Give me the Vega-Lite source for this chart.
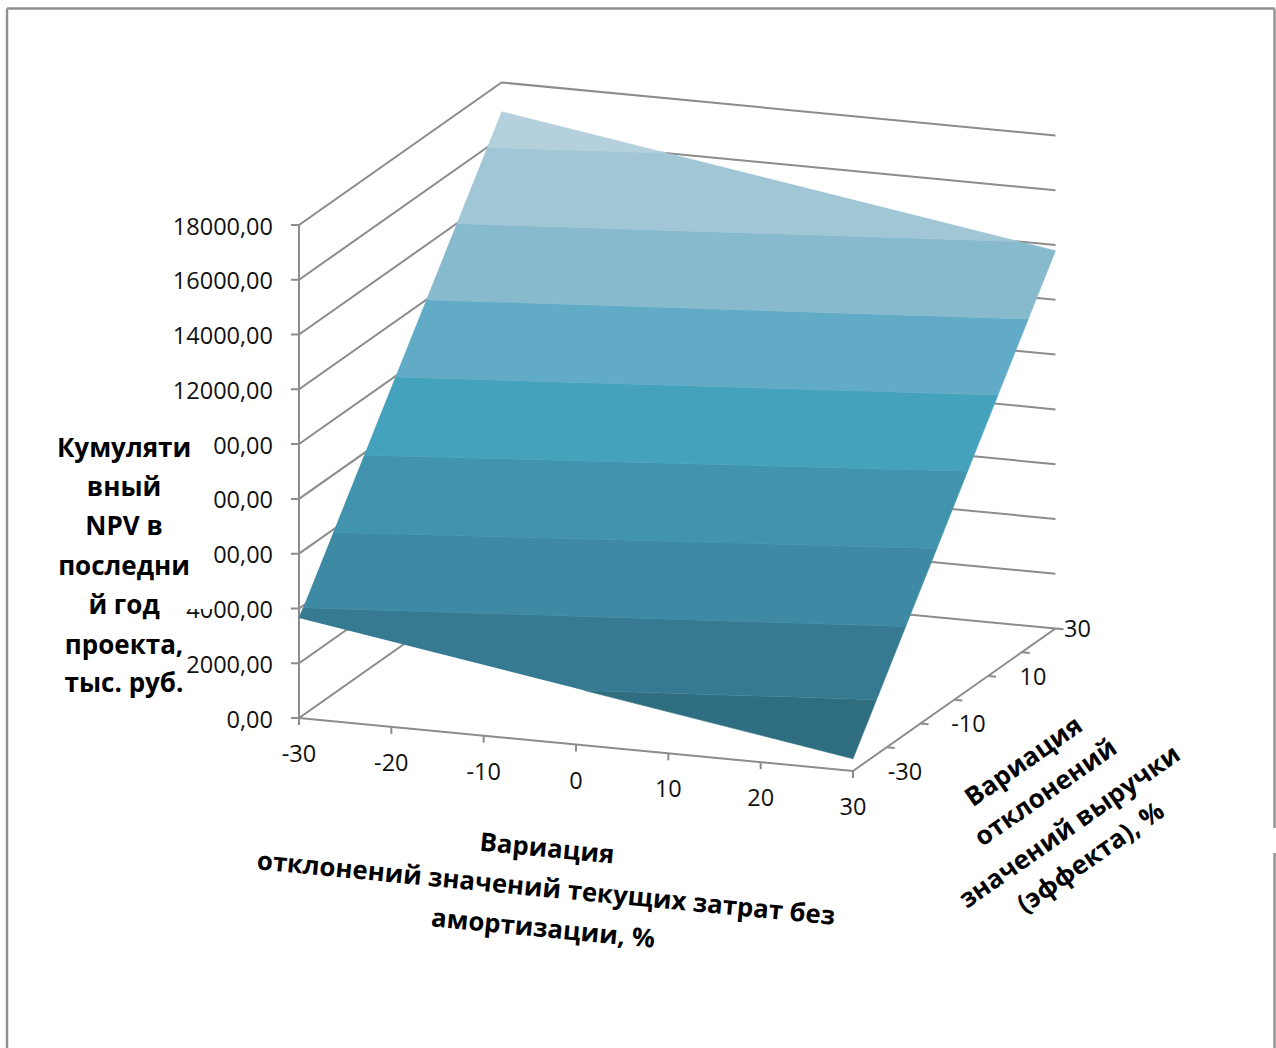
{
"$schema":"https://vega.github.io/schema/vega-lite/v6.json",
"width":1276,"height":1048,
"autosize":"none",
"padding":0,
"background":"#ffffff",
"config":{"view":{"stroke":null}},
"data":{"values":[
{"part":"frame","line":"top","i":0,"cost":-61.62,"revenue":-30,"npv":24884},
{"part":"frame","line":"top","i":1,"cost":75.65,"revenue":-30,"npv":29310},
{"part":"frame","line":"left","i":0,"cost":-61.62,"revenue":-30,"npv":24884},
{"part":"frame","line":"left","i":1,"cost":-61.62,"revenue":-30,"npv":-13068},
{"part":"frame","line":"right1","i":0,"cost":75.65,"revenue":-30,"npv":29310},
{"part":"frame","line":"right1","i":1,"cost":75.65,"revenue":-30,"npv":-610},
{"part":"frame","line":"right2","i":0,"cost":75.65,"revenue":-30,"npv":-1523},
{"part":"frame","line":"right2","i":1,"cost":75.65,"revenue":-30,"npv":-8642},

{"part":"grid","line":"g0","i":0,"cost":-30.87,"revenue":-30,"npv":-28},
{"part":"grid","line":"g0","i":1,"cost":-30,"revenue":-30,"npv":0},
{"part":"grid","line":"g0","i":2,"cost":-30,"revenue":30,"npv":0},
{"part":"grid","line":"g0","i":3,"cost":30,"revenue":30,"npv":0},
{"part":"grid","line":"g2","i":0,"cost":-30.87,"revenue":-30,"npv":1972},
{"part":"grid","line":"g2","i":1,"cost":-30,"revenue":-30,"npv":2000},
{"part":"grid","line":"g2","i":2,"cost":-30,"revenue":30,"npv":2000},
{"part":"grid","line":"g2","i":3,"cost":30,"revenue":30,"npv":2000},
{"part":"grid","line":"g4","i":0,"cost":-30.87,"revenue":-30,"npv":3972},
{"part":"grid","line":"g4","i":1,"cost":-30,"revenue":-30,"npv":4000},
{"part":"grid","line":"g4","i":2,"cost":-30,"revenue":30,"npv":4000},
{"part":"grid","line":"g4","i":3,"cost":30,"revenue":30,"npv":4000},
{"part":"grid","line":"g6","i":0,"cost":-30.87,"revenue":-30,"npv":5972},
{"part":"grid","line":"g6","i":1,"cost":-30,"revenue":-30,"npv":6000},
{"part":"grid","line":"g6","i":2,"cost":-30,"revenue":30,"npv":6000},
{"part":"grid","line":"g6","i":3,"cost":30,"revenue":30,"npv":6000},
{"part":"grid","line":"g8","i":0,"cost":-30.87,"revenue":-30,"npv":7972},
{"part":"grid","line":"g8","i":1,"cost":-30,"revenue":-30,"npv":8000},
{"part":"grid","line":"g8","i":2,"cost":-30,"revenue":30,"npv":8000},
{"part":"grid","line":"g8","i":3,"cost":30,"revenue":30,"npv":8000},
{"part":"grid","line":"g10","i":0,"cost":-30.87,"revenue":-30,"npv":9972},
{"part":"grid","line":"g10","i":1,"cost":-30,"revenue":-30,"npv":10000},
{"part":"grid","line":"g10","i":2,"cost":-30,"revenue":30,"npv":10000},
{"part":"grid","line":"g10","i":3,"cost":30,"revenue":30,"npv":10000},
{"part":"grid","line":"g12","i":0,"cost":-30.87,"revenue":-30,"npv":11972},
{"part":"grid","line":"g12","i":1,"cost":-30,"revenue":-30,"npv":12000},
{"part":"grid","line":"g12","i":2,"cost":-30,"revenue":30,"npv":12000},
{"part":"grid","line":"g12","i":3,"cost":30,"revenue":30,"npv":12000},
{"part":"grid","line":"g14","i":0,"cost":-30.87,"revenue":-30,"npv":13972},
{"part":"grid","line":"g14","i":1,"cost":-30,"revenue":-30,"npv":14000},
{"part":"grid","line":"g14","i":2,"cost":-30,"revenue":30,"npv":14000},
{"part":"grid","line":"g14","i":3,"cost":30,"revenue":30,"npv":14000},
{"part":"grid","line":"g16","i":0,"cost":-30.87,"revenue":-30,"npv":15972},
{"part":"grid","line":"g16","i":1,"cost":-30,"revenue":-30,"npv":16000},
{"part":"grid","line":"g16","i":2,"cost":-30,"revenue":30,"npv":16000},
{"part":"grid","line":"g16","i":3,"cost":30,"revenue":30,"npv":16000},
{"part":"grid","line":"g18","i":0,"cost":-30.87,"revenue":-30,"npv":17972},
{"part":"grid","line":"g18","i":1,"cost":-30,"revenue":-30,"npv":18000},
{"part":"grid","line":"g18","i":2,"cost":-30,"revenue":30,"npv":18000},
{"part":"grid","line":"g18","i":3,"cost":30,"revenue":30,"npv":18000},
{"part":"grid","line":"npvaxis","i":0,"cost":-30,"revenue":-30,"npv":0},
{"part":"grid","line":"npvaxis","i":1,"cost":-30,"revenue":-30,"npv":18000},
{"part":"grid","line":"floor","i":0,"cost":-30,"revenue":-30,"npv":0},
{"part":"grid","line":"floor","i":1,"cost":30,"revenue":-30,"npv":0},
{"part":"grid","line":"floor","i":2,"cost":30,"revenue":30,"npv":0},
{"part":"grid","line":"c-30","i":0,"cost":-30,"revenue":-30,"npv":0},
{"part":"grid","line":"c-30","i":1,"cost":-30,"revenue":-30,"npv":-256},
{"part":"grid","line":"c-20","i":0,"cost":-20,"revenue":-30,"npv":0},
{"part":"grid","line":"c-20","i":1,"cost":-20,"revenue":-30,"npv":-256},
{"part":"grid","line":"c-10","i":0,"cost":-10,"revenue":-30,"npv":0},
{"part":"grid","line":"c-10","i":1,"cost":-10,"revenue":-30,"npv":-256},
{"part":"grid","line":"c0","i":0,"cost":0,"revenue":-30,"npv":0},
{"part":"grid","line":"c0","i":1,"cost":0,"revenue":-30,"npv":-256},
{"part":"grid","line":"c10","i":0,"cost":10,"revenue":-30,"npv":0},
{"part":"grid","line":"c10","i":1,"cost":10,"revenue":-30,"npv":-256},
{"part":"grid","line":"c20","i":0,"cost":20,"revenue":-30,"npv":0},
{"part":"grid","line":"c20","i":1,"cost":20,"revenue":-30,"npv":-256},
{"part":"grid","line":"c30","i":0,"cost":30,"revenue":-30,"npv":0},
{"part":"grid","line":"c30","i":1,"cost":30,"revenue":-30,"npv":-256},
{"part":"grid","line":"r-20","i":0,"cost":30,"revenue":-20,"npv":0},
{"part":"grid","line":"r-20","i":1,"cost":30.87,"revenue":-20,"npv":0},
{"part":"grid","line":"r-10","i":0,"cost":30,"revenue":-10,"npv":0},
{"part":"grid","line":"r-10","i":1,"cost":30.87,"revenue":-10,"npv":0},
{"part":"grid","line":"r0","i":0,"cost":30,"revenue":0,"npv":0},
{"part":"grid","line":"r0","i":1,"cost":30.87,"revenue":0,"npv":0},
{"part":"grid","line":"r10","i":0,"cost":30,"revenue":10,"npv":0},
{"part":"grid","line":"r10","i":1,"cost":30.87,"revenue":10,"npv":0},
{"part":"grid","line":"r20","i":0,"cost":30,"revenue":20,"npv":0},
{"part":"grid","line":"r20","i":1,"cost":30.87,"revenue":20,"npv":0},
{"part":"grid","line":"r30","i":0,"cost":30,"revenue":30,"npv":0},
{"part":"grid","line":"r30","i":1,"cost":30.87,"revenue":30,"npv":0},

{"part":"surface","band":"0-2000","i":0,"cost":0.94,"revenue":-30,"npv":2000},
{"part":"surface","band":"0-2000","i":1,"cost":30,"revenue":-30,"npv":449},
{"part":"surface","band":"0-2000","i":2,"cost":30,"revenue":-23.03,"npv":2000},
{"part":"surface","band":"2000-4000","i":0,"cost":0.94,"revenue":-30,"npv":2000},
{"part":"surface","band":"2000-4000","i":1,"cost":30,"revenue":-23.03,"npv":2000},
{"part":"surface","band":"2000-4000","i":2,"cost":30,"revenue":-14.4,"npv":3921},
{"part":"surface","band":"2000-4000","i":3,"cost":-30,"revenue":-28.78,"npv":3921},
{"part":"surface","band":"2000-4000","i":4,"cost":-30,"revenue":-30,"npv":3651},
{"part":"surface","band":"4000-6000","i":0,"cost":-30,"revenue":-28.78,"npv":3921},
{"part":"surface","band":"4000-6000","i":1,"cost":30,"revenue":-14.4,"npv":3921},
{"part":"surface","band":"4000-6000","i":2,"cost":30,"revenue":-5.16,"npv":5973},
{"part":"surface","band":"4000-6000","i":3,"cost":-30,"revenue":-19.86,"npv":5896},
{"part":"surface","band":"6000-8000","i":0,"cost":-30,"revenue":-19.86,"npv":5896},
{"part":"surface","band":"6000-8000","i":1,"cost":30,"revenue":-5.16,"npv":5973},
{"part":"surface","band":"6000-8000","i":2,"cost":30,"revenue":3.95,"npv":8000},
{"part":"surface","band":"6000-8000","i":3,"cost":-30,"revenue":-10.71,"npv":7921},
{"part":"surface","band":"8000-10000","i":0,"cost":-30,"revenue":-10.71,"npv":7921},
{"part":"surface","band":"8000-10000","i":1,"cost":30,"revenue":3.95,"npv":8000},
{"part":"surface","band":"8000-10000","i":2,"cost":30,"revenue":12.95,"npv":10000},
{"part":"surface","band":"8000-10000","i":3,"cost":-30,"revenue":-1.44,"npv":9973},
{"part":"surface","band":"10000-12000","i":0,"cost":-30,"revenue":-1.44,"npv":9973},
{"part":"surface","band":"10000-12000","i":1,"cost":30,"revenue":12.95,"npv":10000},
{"part":"surface","band":"10000-12000","i":2,"cost":30,"revenue":21.94,"npv":12000},
{"part":"surface","band":"10000-12000","i":3,"cost":-30,"revenue":7.72,"npv":12000},
{"part":"surface","band":"12000-14000","i":0,"cost":-30,"revenue":7.72,"npv":12000},
{"part":"surface","band":"12000-14000","i":1,"cost":30,"revenue":21.94,"npv":12000},
{"part":"surface","band":"12000-14000","i":2,"cost":30,"revenue":30,"npv":13793},
{"part":"surface","band":"12000-14000","i":3,"cost":26.04,"revenue":30,"npv":14000},
{"part":"surface","band":"12000-14000","i":4,"cost":-30,"revenue":16.75,"npv":14000},
{"part":"surface","band":"14000-16000","i":0,"cost":-30,"revenue":16.75,"npv":14000},
{"part":"surface","band":"14000-16000","i":1,"cost":26.04,"revenue":30,"npv":14000},
{"part":"surface","band":"14000-16000","i":2,"cost":-12.17,"revenue":30,"npv":16000},
{"part":"surface","band":"14000-16000","i":3,"cost":-30,"revenue":25.79,"npv":16000},
{"part":"surface","band":"16000-18000","i":0,"cost":-30,"revenue":25.79,"npv":16000},
{"part":"surface","band":"16000-18000","i":1,"cost":-12.17,"revenue":30,"npv":16000},
{"part":"surface","band":"16000-18000","i":2,"cost":-30,"revenue":30,"npv":16933},

{"part":"npvlabel","cost":-30,"revenue":-30,"npv":18000,"label":"18000,00"},
{"part":"npvlabel","cost":-30,"revenue":-30,"npv":16000,"label":"16000,00"},
{"part":"npvlabel","cost":-30,"revenue":-30,"npv":14000,"label":"14000,00"},
{"part":"npvlabel","cost":-30,"revenue":-30,"npv":12000,"label":"12000,00"},
{"part":"npvlabel","cost":-30,"revenue":-30,"npv":10000,"label":"10000,00"},
{"part":"npvlabel","cost":-30,"revenue":-30,"npv":8000,"label":"8000,00"},
{"part":"npvlabel","cost":-30,"revenue":-30,"npv":6000,"label":"6000,00"},
{"part":"npvlabel","cost":-30,"revenue":-30,"npv":4000,"label":"4000,00"},
{"part":"npvlabel","cost":-30,"revenue":-30,"npv":2000,"label":"2000,00"},
{"part":"npvlabel","cost":-30,"revenue":-30,"npv":0,"label":"0,00"},

{"part":"costlabel","cost":-30,"revenue":-30,"npv":0,"label":"-30"},
{"part":"costlabel","cost":-20,"revenue":-30,"npv":0,"label":"-20"},
{"part":"costlabel","cost":-10,"revenue":-30,"npv":0,"label":"-10"},
{"part":"costlabel","cost":0,"revenue":-30,"npv":0,"label":"0"},
{"part":"costlabel","cost":10,"revenue":-30,"npv":0,"label":"10"},
{"part":"costlabel","cost":20,"revenue":-30,"npv":0,"label":"20"},
{"part":"costlabel","cost":30,"revenue":-30,"npv":0,"label":"30"},

{"part":"revlabel","cost":35.63,"revenue":-30,"npv":181,"label":"-30"},
{"part":"revlabel","cost":35.2,"revenue":-10,"npv":168,"label":"-10"},
{"part":"revlabel","cost":34.87,"revenue":10,"npv":157,"label":"10"},
{"part":"revlabel","cost":32.38,"revenue":30,"npv":77,"label":"30"},

{"part":"mask","cost":-56.97,"revenue":-30,"npv":9718,"cost2":-39.31,"npv2":3679},

{"part":"npvtitle","cost":-48.95,"revenue":-30,"npv":9283,"label":"Кумуляти"},
{"part":"npvtitle","cost":-48.95,"revenue":-30,"npv":7859,"label":"вный"},
{"part":"npvtitle","cost":-48.95,"revenue":-30,"npv":6435,"label":"NPV в"},
{"part":"npvtitle","cost":-48.95,"revenue":-30,"npv":4975,"label":"последни"},
{"part":"npvtitle","cost":-48.95,"revenue":-30,"npv":3551,"label":"й год"},
{"part":"npvtitle","cost":-48.95,"revenue":-30,"npv":2091,"label":"проекта,"},
{"part":"npvtitle","cost":-48.95,"revenue":-30,"npv":703,"label":"тыс. руб."},

{"part":"costtitle","cost":-3.14,"revenue":-30,"npv":-3917,"label":"Вариация"},
{"part":"costtitle","cost":-3.25,"revenue":-30,"npv":-5382,"label":"отклонений значений текущих затрат без"},
{"part":"costtitle","cost":-3.57,"revenue":-30,"npv":-6853,"label":"амортизации, %"},

{"part":"revtitle","cost":48.52,"revenue":-30,"npv":926,"label":"Вариация"},
{"part":"revtitle","cost":50.9,"revenue":-30,"npv":-129,"label":"отклонений"},
{"part":"revtitle","cost":53.5,"revenue":-30,"npv":-1287,"label":"значений выручки"},
{"part":"revtitle","cost":55.78,"revenue":-30,"npv":-2345,"label":"(эффекта), %"}
]},
"transform":[
{"calculate":"299 + (datum.cost + 30) / 60 * 554 + (datum.revenue + 30) / 60 * 202.5","as":"sx"},
{"calculate":"718 - datum.npv * 493 / 18000 + (datum.cost + 30) / 60 * 53 - (datum.revenue + 30) / 60 * 142.5","as":"sy"}
],
"encoding":{
"x":{"field":"sx","type":"quantitative","axis":null,"scale":{"domain":[0,1276],"nice":false,"zero":false}},
"y":{"field":"sy","type":"quantitative","axis":null,"scale":{"domain":[0,1048],"reverse":true,"nice":false,"zero":false}}
},
"layer":[
{"transform":[{"filter":"datum.part === 'frame'"}],
 "mark":{"type":"line","stroke":"#909090","strokeWidth":2.4,"clip":false},
 "encoding":{"detail":{"field":"line"},"order":{"field":"i","type":"quantitative"}}},
{"transform":[{"filter":"datum.part === 'grid'"}],
 "mark":{"type":"line","stroke":"#8c8c8c","strokeWidth":2},
 "encoding":{"detail":{"field":"line"},"order":{"field":"i","type":"quantitative"}}},
{"transform":[{"filter":"datum.part === 'surface'"}],
 "mark":{"type":"line","strokeWidth":0.6},
 "encoding":{
  "detail":{"field":"band"},
  "order":{"field":"i","type":"quantitative"},
  "fill":{"field":"band","type":"nominal","legend":null,"scale":{"domain":["0-2000","2000-4000","4000-6000","6000-8000","8000-10000","10000-12000","12000-14000","14000-16000","16000-18000"],"range":["#2f6e80","#367a91","#3e8aa4","#4193ae","#45a2bc","#62abc6","#88bace","#a1c6d6","#b5d0dd"]}},
  "stroke":{"field":"band","type":"nominal","legend":null,"scale":{"domain":["0-2000","2000-4000","4000-6000","6000-8000","8000-10000","10000-12000","12000-14000","14000-16000","16000-18000"],"range":["#2f6e80","#367a91","#3e8aa4","#4193ae","#45a2bc","#62abc6","#88bace","#a1c6d6","#b5d0dd"]}}
 }},
{"transform":[{"filter":"datum.part === 'npvlabel'"}],
 "mark":{"type":"text","align":"right","baseline":"middle","dx":-26,"dy":2.5,"font":"Open Sans","fontSize":23.5,"fill":"#111111"},
 "encoding":{"text":{"field":"label"}}},
{"transform":[{"filter":"datum.part === 'costlabel'"}],
 "mark":{"type":"text","align":"center","baseline":"middle","dy":37,"font":"Open Sans","fontSize":23.5,"fill":"#111111"},
 "encoding":{"text":{"field":"label"}}},
{"transform":[{"filter":"datum.part === 'revlabel'"}],
 "mark":{"type":"text","align":"center","baseline":"middle","dy":2,"font":"Open Sans","fontSize":23.5,"fill":"#111111"},
 "encoding":{"text":{"field":"label"}}},
{"transform":[{"filter":"datum.part === 'mask'"},
 {"calculate":"299 + (datum.cost2 + 30) / 60 * 554 + (datum.revenue + 30) / 60 * 202.5","as":"sx2"},
 {"calculate":"718 - datum.npv2 * 493 / 18000 + (datum.cost2 + 30) / 60 * 53 - (datum.revenue + 30) / 60 * 142.5","as":"sy2"}],
 "mark":{"type":"rect","fill":"#ffffff"},
 "encoding":{"x2":{"field":"sx2"},"y2":{"field":"sy2"}}},
{"transform":[{"filter":"datum.part === 'npvtitle'"}],
 "mark":{"type":"text","align":"center","baseline":"middle","dy":2,"font":"Open Sans","fontWeight":"bold","fontSize":26,"fill":"#000000"},
 "encoding":{"text":{"field":"label"}}},
{"transform":[{"filter":"datum.part === 'costtitle'"}],
 "mark":{"type":"text","align":"center","baseline":"middle","angle":5.5,"font":"Open Sans","fontWeight":"bold","fontSize":25.8,"fill":"#000000"},
 "encoding":{"text":{"field":"label"}}},
{"transform":[{"filter":"datum.part === 'revtitle'"}],
 "mark":{"type":"text","align":"center","baseline":"middle","angle":-35,"font":"Open Sans","fontWeight":"bold","fontSize":26,"fill":"#000000"},
 "encoding":{"text":{"field":"label"}}}
]
}
